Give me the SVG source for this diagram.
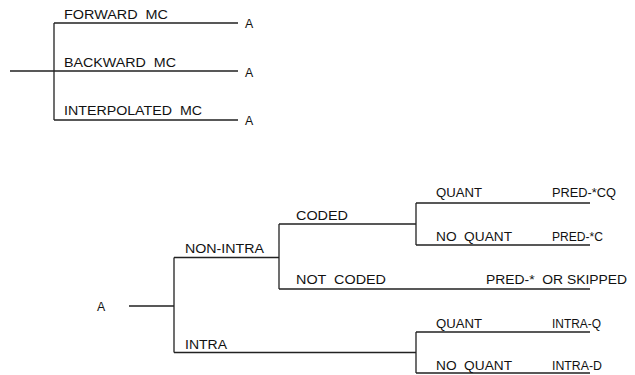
<svg xmlns="http://www.w3.org/2000/svg" width="635" height="375" viewBox="0 0 635 375" xml:space="preserve">
<style>
  text { font-family: "Liberation Sans", Arial, sans-serif; font-size: 12.3px; fill: #111; white-space: pre; }
  .ln { stroke: #222; stroke-width: 1.3; fill: none; }
</style>
<rect width="635" height="375" fill="#fff"/>
<g id="connectors">
  <path class="ln" d="M10,71 H54 M54,23 V120 M54,23 H238 M54,71 H238 M54,120 H238"/>
  <path class="ln" d="M129,306 H174 M174,257.5 V352.5 M174,257.5 H279 M174,352.5 H416 M279,224 V289 M279,224 H416 M279,289 H590 M416,203 V245 M416,203 H590 M416,245 H590 M416,332 V373 M416,332 H590 M416,373 H590"/>
</g>
<g id="mc-tree">
  <text x="64" y="19" textLength="104" lengthAdjust="spacingAndGlyphs">FORWARD  MC</text>
  <text x="64" y="67" textLength="112" lengthAdjust="spacingAndGlyphs">BACKWARD  MC</text>
  <text x="64" y="115" textLength="138" lengthAdjust="spacingAndGlyphs">INTERPOLATED  MC</text>
  <text x="245" y="28">A</text>
  <text x="245" y="77">A</text>
  <text x="245" y="125">A</text>
</g>
<g id="root-a"><text x="97" y="311">A</text></g>
<g id="non-intra"><text x="185" y="253" textLength="79" lengthAdjust="spacingAndGlyphs">NON-INTRA</text></g>
<g id="intra"><text x="185" y="349" textLength="42" lengthAdjust="spacingAndGlyphs">INTRA</text></g>
<g id="coded"><text x="296" y="220" textLength="52" lengthAdjust="spacingAndGlyphs">CODED</text></g>
<g id="not-coded"><text x="296" y="284" textLength="90" lengthAdjust="spacingAndGlyphs">NOT  CODED</text></g>
<g id="quant1"><text x="436" y="197" textLength="46" lengthAdjust="spacingAndGlyphs">QUANT</text></g>
<g id="noquant1"><text x="436" y="241" textLength="76" lengthAdjust="spacingAndGlyphs">NO  QUANT</text></g>
<g id="quant2"><text x="436" y="328" textLength="46" lengthAdjust="spacingAndGlyphs">QUANT</text></g>
<g id="noquant2"><text x="436" y="370" textLength="76" lengthAdjust="spacingAndGlyphs">NO  QUANT</text></g>
<g id="pred-cq"><text x="552" y="197" textLength="64" lengthAdjust="spacingAndGlyphs">PRED-*CQ</text></g>
<g id="pred-c"><text x="552" y="241" textLength="51" lengthAdjust="spacingAndGlyphs">PRED-*C</text></g>
<g id="pred-skipped"><text x="486" y="284" textLength="141" lengthAdjust="spacingAndGlyphs">PRED-*  OR SKIPPED</text></g>
<g id="intra-q"><text x="552" y="328" textLength="49" lengthAdjust="spacingAndGlyphs">INTRA-Q</text></g>
<g id="intra-d"><text x="552" y="370" textLength="50" lengthAdjust="spacingAndGlyphs">INTRA-D</text></g>
</svg>
